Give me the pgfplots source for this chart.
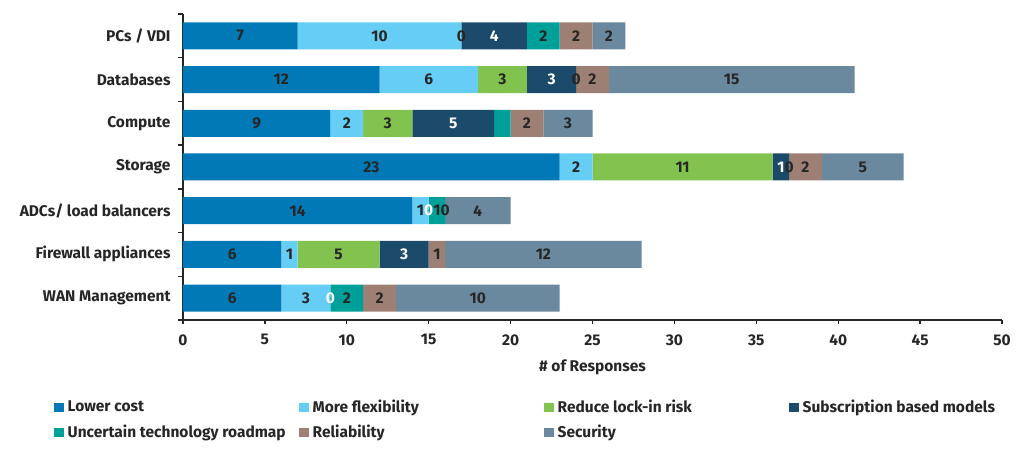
\documentclass[border=0pt]{standalone}
\usepackage{pgfplots}
\pgfplotsset{compat=1.18}
\usepackage{fontspec}
\setmainfont{Fira Sans}
\definecolor{cLow}{RGB}{0,121,182}
\definecolor{cFlex}{RGB}{102,206,245}
\definecolor{cLock}{RGB}{130,195,79}
\definecolor{cSub}{RGB}{27,74,107}
\definecolor{cUnc}{RGB}{0,160,154}
\definecolor{cRel}{RGB}{158,127,115}
\definecolor{cSec}{RGB}{106,136,158}
\definecolor{cTxt}{RGB}{38,38,38}
\newcommand{\lgbox}[1]{\makebox[230bp][l]{#1}}
\protected\def\nolab{\phantom{0}}
\newcommand{\fs}{\fontsize{15.5bp}{18bp}\selectfont\bfseries}
\begin{document}
\begin{tikzpicture}[font=\fs]
\begin{axis}[
  scale only axis,
  width=819bp, height=306bp,
  xbar stacked,
  bar width=27bp,
  xmin=0, xmax=50,
  ymin=-0.5, ymax=6.5,
  xtick={0,5,...,50},
  ytick={0,...,6},
  yticklabels={WAN Management,Firewall appliances,ADCs/ load balancers,Storage,Compute,Databases,PCs / VDI},
  minor ytick={-0.5,0.5,...,6.5},
  major tick length=0bp,
  minor tick length=5bp,
  tick align=outside,
  axis x line*=bottom,
  axis y line*=left,
  axis line style={cTxt, line width=1.3bp},
  every tick/.style={cTxt, line width=1.3bp},
  extra x ticks={0,5,...,50},
  extra x tick labels={},
  extra x tick style={major tick length=4bp, tick align=outside},
  /pgf/number format/assume math mode=true,
  tick label style={font=\fs, text=cTxt},
  yticklabel style={anchor=east, xshift=-9bp},
  xticklabel style={anchor=north, yshift=-11bp},
  xlabel={\# of Responses},
  every axis x label/.style={at={(axis description cs:0.5,0)}, anchor=center, yshift=-47bp, font=\fs, text=cTxt},
  point meta=explicit symbolic,
  nodes near coords,
  every node near coord/.append style={anchor=center, font=\fs, text=cTxt, inner sep=0pt},
  legend columns=4,
  legend style={draw=none, at={(axis description cs:-0.1575,-0.256)}, anchor=north west, inner sep=0pt, row sep=8bp, font=\fs, text=cTxt, nodes={inner sep=1.5bp}, /tikz/every odd column/.append style={column sep=2bp}},
  legend cell align=left,
  legend image code/.code={\fill[#1,draw=none] (0bp,-4.5bp) rectangle (10bp,4.5bp);},
]
\addplot[fill=cLow, draw=none] coordinates {(6,0)[6] (6,1)[6] (14,2)[14] (23,3)[23] (9,4)[9] (12,5)[12] (7,6)[7]};
\addplot[fill=cFlex, draw=none] coordinates {(3,0)[3] (1,1)[1] (1,2)[1] (2,3)[2] (2,4)[2] (6,5)[6] (10,6)[10]};
\addplot[fill=cLock, draw=none] coordinates {(0,0)[\nolab] (5,1)[5] (0,2)[\nolab] (11,3)[11] (3,4)[3] (3,5)[3] (0,6)[\nolab]};
\addplot[fill=cSub, draw=none, every node near coord/.append style={text=white}] coordinates {(0,0)[\nolab] (3,1)[3] (0,2)[\nolab] (1,3)[1] (5,4)[5] (3,5)[3] (4,6)[4]};
\addplot[fill=cUnc, draw=none] coordinates {(2,0)[2] (0,1)[\nolab] (1,2)[1] (0,3)[\nolab] (1,4)[\nolab] (0,5)[\nolab] (2,6)[2]};
\addplot[fill=cRel, draw=none] coordinates {(2,0)[2] (1,1)[1] (0,2)[\nolab] (2,3)[2] (2,4)[2] (2,5)[2] (2,6)[2]};
\addplot[fill=cSec, draw=none] coordinates {(10,0)[10] (12,1)[12] (4,2)[4] (5,3)[5] (3,4)[3] (15,5)[15] (2,6)[2]};
\legend{\lgbox{Lower cost},\lgbox{More flexibility},\lgbox{Reduce lock-in risk},\lgbox{Subscription based models},\lgbox{Uncertain technology roadmap},\lgbox{Reliability},\lgbox{Security}}
\end{axis}
% overlay axis: labels "0" of the zero-width segments, at the running totals where they sit
\begin{axis}[
  scale only axis,
  width=819bp, height=306bp,
  xmin=0, xmax=50,
  ymin=-0.5, ymax=6.5,
  hide axis,
  point meta=explicit symbolic,
  nodes near coords,
  every node near coord/.append style={anchor=center, font=\fs, text=cTxt, inner sep=0pt},
]
\addplot[only marks, mark=*, mark size=0.01pt, mark options={draw=none, fill=none}] coordinates {(17,6)[0] (24,5)[0] (37,3)[0] (16,2)[0]};
\addplot[only marks, mark=*, mark size=0.01pt, mark options={draw=none, fill=none}, every node near coord/.append style={text=white}] coordinates {(15,2)[0] (9,0)[0]};
\end{axis}
\pgfresetboundingbox
\path (-183bp,-129bp) rectangle (841bp,320bp);
\end{tikzpicture}
\end{document}
